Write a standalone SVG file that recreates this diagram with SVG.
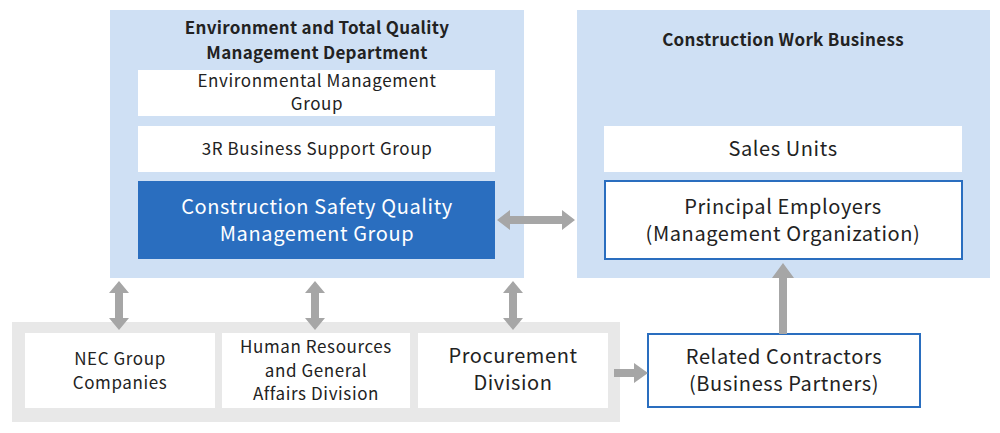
<svg xmlns="http://www.w3.org/2000/svg" width="1000" height="433" viewBox="0 0 1000 433">
<style>
text{font-family:"Noto Sans CJK JP","Noto Sans",sans-serif;fill:#222;text-anchor:middle;letter-spacing:0.6px}
.t{font-weight:bold;font-size:17px;letter-spacing:0.3px}
.s{font-size:17px}
.m{font-size:20px}
.w{fill:#fff}
.panel{fill:#cfe0f4}
.wb{fill:#fff}
.bb{fill:#fff;stroke:#2a6ebf;stroke-width:2}
.ar{fill:#a6a6a6}
</style>
<g id="env-dept"><rect class="panel" x="110" y="10" width="414" height="268"/>
<text class="t" x="317" y="34">Environment and Total Quality</text>
<text class="t" x="317" y="59">Management Department</text></g>
<g id="env-mgmt"><rect class="wb" x="138" y="70" width="357" height="46"/>
<text class="s" x="317" y="87">Environmental Management</text><text class="s" x="317" y="110">Group</text></g>
<g id="3r"><rect class="wb" x="138" y="126" width="357" height="46"/>
<text class="s" x="317" y="155">3R Business Support Group</text></g>
<g id="csqm"><rect x="138" y="181" width="357" height="78" fill="#2a6ebf"/>
<text class="m w" x="317" y="214">Construction Safety Quality</text><text class="m w" x="317" y="241">Management Group</text></g>
<g id="cwb"><rect class="panel" x="577" y="10" width="413" height="268"/>
<text class="t" x="783" y="46">Construction Work Business</text></g>
<g id="sales"><rect class="wb" x="604" y="126" width="358" height="46"/>
<text class="m" x="783" y="156">Sales Units</text></g>
<g id="principal"><rect class="bb" x="605" y="181" width="357" height="78"/>
<text class="m" x="783" y="214">Principal Employers</text><text class="m" x="783" y="241">(Management Organization)</text></g>
<g id="bottom"><rect fill="#e8e8e8" x="12" y="322" width="608" height="100"/></g>
<g id="nec"><rect class="wb" x="25" y="333" width="190" height="75"/>
<text class="s" x="120" y="365">NEC Group</text><text class="s" x="120" y="389">Companies</text></g>
<g id="hr"><rect class="wb" x="222" y="333" width="188" height="75"/>
<text class="s" x="316" y="353">Human Resources</text><text class="s" x="316" y="377">and General</text><text class="s" x="316" y="400">Affairs Division</text></g>
<g id="proc"><rect class="wb" x="418" y="333" width="190" height="75"/>
<text class="m" x="513" y="363">Procurement</text><text class="m" x="513" y="390">Division</text></g>
<g id="related"><rect class="bb" x="648" y="334" width="272" height="73"/>
<text class="m" x="784" y="364">Related Contractors</text><text class="m" x="784" y="391">(Business Partners)</text></g>
<g id="connectors">
<polygon class="ar" points="497,220 510,210 510,216 562,216 562,210 575,220 562,230 562,224 510,224 510,230"/>
<polygon class="ar" points="119,281 129,293 123,293 123,318 129,318 119,330 109,318 115,318 115,293 109,293"/>
<polygon class="ar" points="315,281 325,293 319,293 319,318 325,318 315,330 305,318 311,318 311,293 305,293"/>
<polygon class="ar" points="513,281 523,293 517,293 517,318 523,318 513,330 503,318 509,318 509,293 503,293"/>
<polygon class="ar" points="614,369 634,369 634,363 648,373 634,383 634,377 614,377"/>
<polygon class="ar" points="779,334 779,278 772,278 783,263 794,278 787,278 787,334"/>
</g>
</svg>
